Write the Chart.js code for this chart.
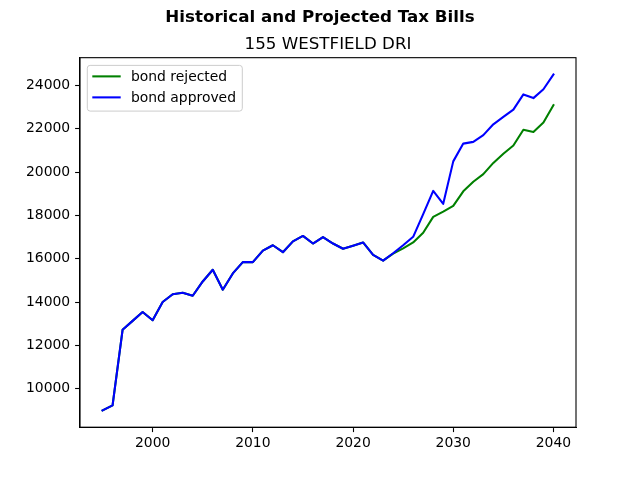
<!DOCTYPE html>
<html>
<head>
<meta charset="utf-8">
<script src="https://cdn.jsdelivr.net/npm/chart.js@4.4.1/dist/chart.umd.min.js"></script>
<style>
html,body{margin:0;padding:0;background:#fff;}
#wrap{width:640px;height:480px;position:relative;}
</style>
</head>
<body>
<div id="wrap"><canvas id="c" width="640" height="480"></canvas></div>
<script>
const years = [];
for (let y = 1995; y <= 2040; y++) years.push(y);

const history = [9000, 9230, 12720, 13130, 13540, 13160, 14000, 14360, 14430, 14290,
  14950, 15490, 14570, 15320, 15840, 15840, 16370, 16620, 16300, 16800,
  17050, 16700, 17000, 16700, 16460, 16600, 16750, 16180, 15910];

const rejectedProj = [16230, 16480, 16750, 17200, 17930, 18170, 18440, 19110, 19550,
  19900, 20420, 20840, 21220, 21950, 21850, 22280, 23080];

const approvedProj = [16250, 16620, 17010, 18060, 19130, 18530, 20490, 21310, 21390,
  21700, 22200, 22540, 22880, 23580, 23410, 23820, 24500];

const bondRejected = history.concat(rejectedProj);
const bondApproved = history.concat(approvedProj);

const xTicks = [2000, 2010, 2020, 2030, 2040];
const yTicks = [10000, 12000, 14000, 16000, 18000, 20000, 22000, 24000];

const seriesLabels = ['bond rejected', 'bond approved'];
const mainTitle = 'Historical and Projected Tax Bills';
const subTitle = '155 WESTFIELD DRI';

const FONT = "'DejaVu Sans', sans-serif";

function pts(vals) { return years.map((yr, i) => ({x: yr, y: vals[i]})); }

const allVals = bondRejected.concat(bondApproved);
const dMin = Math.min(...allVals), dMax = Math.max(...allVals);
const yPad = (dMax - dMin) * 0.05;
const xPad = (years[years.length - 1] - years[0]) * 0.05;

const titleAlign = {
  id: 'titleAlign',
  afterLayout(chart) {
    const a = chart.chartArea;
    chart.boxes.forEach(b => {
      if (!b.options || typeof b.options.text !== 'string') return;
      if (b.options.text === mainTitle) { b.left = 0; b.right = chart.width; }
      else if (b.options.text === subTitle) { b.left = a.left; b.right = a.right; }
    });
  }
};

const frameAndLegend = {
  id: 'frameAndLegend',
  afterDraw(chart) {
    const ctx = chart.ctx;
    const a = chart.chartArea;
    ctx.save();
    ctx.strokeStyle = '#000';
    ctx.lineWidth = 1.1;
    ctx.strokeRect(a.left, a.top, a.right - a.left, a.bottom - a.top);
    // legend
    const lx = a.left + 7.3, ly = a.top + 7.7, lw = 155, lh = 45.7, r = 2.8;
    ctx.beginPath();
    ctx.moveTo(lx + r, ly);
    ctx.lineTo(lx + lw - r, ly);
    ctx.arcTo(lx + lw, ly, lx + lw, ly + r, r);
    ctx.lineTo(lx + lw, ly + lh - r);
    ctx.arcTo(lx + lw, ly + lh, lx + lw - r, ly + lh, r);
    ctx.lineTo(lx + r, ly + lh);
    ctx.arcTo(lx, ly + lh, lx, ly + lh - r, r);
    ctx.lineTo(lx, ly + r);
    ctx.arcTo(lx, ly, lx + r, ly, r);
    ctx.closePath();
    ctx.fillStyle = 'rgba(255,255,255,0.8)';
    ctx.fill();
    ctx.strokeStyle = '#cccccc';
    ctx.lineWidth = 1;
    ctx.stroke();
    ctx.font = '13.9px ' + FONT;
    ctx.textBaseline = 'middle';
    ctx.fillStyle = '#000';
    chart.data.datasets.forEach((ds, i) => {
      const yy = ly + 11 + i * 21;
      ctx.beginPath();
      ctx.strokeStyle = ds.borderColor;
      ctx.lineWidth = 2.08;
      ctx.moveTo(lx + 5, yy);
      ctx.lineTo(lx + 33.4, yy);
      ctx.stroke();
      ctx.fillText(ds.label, lx + 43.7, yy + 1);
    });
    ctx.restore();
  }
};

new Chart(document.getElementById('c'), {
  type: 'line',
  data: {
    datasets: [
      {label: seriesLabels[0], data: pts(bondRejected), borderColor: '#008000', backgroundColor: '#008000', order: 1,
       borderWidth: 2.08, pointRadius: 0, tension: 0, borderJoinStyle: 'round', borderCapStyle: 'square'},
      {label: seriesLabels[1], data: pts(bondApproved), borderColor: '#0000ff', backgroundColor: '#0000ff', order: 0,
       borderWidth: 2.08, pointRadius: 0, tension: 0, borderJoinStyle: 'round', borderCapStyle: 'square'}
    ]
  },
  options: {
    responsive: false,
    animation: false,
    devicePixelRatio: 1,
    layout: {padding: {left: 0, right: 64, top: 0, bottom: 0}},
    plugins: {
      legend: {display: false},
      tooltip: {enabled: false},
      title: {display: true, text: mainTitle, color: '#000',
        font: {family: FONT, size: 16.7, weight: 'bold'}, padding: {top: 8, bottom: 0}},
      subtitle: {display: true, text: subTitle, color: '#000',
        font: {family: FONT, size: 16.7, weight: 'normal'}, padding: {top: 7, bottom: 2.6}}
    },
    scales: {
      x: {
        type: 'linear',
        min: years[0] - xPad,
        max: years[years.length - 1] + xPad,
        afterBuildTicks(s) { s.ticks = xTicks.map(v => ({value: v})); },
        afterFit(s) { s.height = 52.8; },
        ticks: {color: '#000', font: {family: FONT, size: 13.9}, padding: 3, maxRotation: 0,
          callback: v => String(v)},
        grid: {drawOnChartArea: false, drawTicks: true, tickLength: 4.9, color: '#000', tickWidth: 1.1},
        border: {display: true, color: '#000', width: 1.1}
      },
      y: {
        type: 'linear',
        min: dMin - yPad,
        max: dMax + yPad,
        afterBuildTicks(s) { s.ticks = yTicks.map(v => ({value: v})); },
        afterFit(s) { s.width = 80; },
        ticks: {color: '#000', font: {family: FONT, size: 13.9}, padding: 4.9,
          callback: v => String(v)},
        grid: {drawOnChartArea: false, drawTicks: true, tickLength: 4.9, color: '#000', tickWidth: 1.1},
        border: {display: true, color: '#000', width: 1.1}
      }
    }
  },
  plugins: [titleAlign, frameAndLegend]
});
</script>
</body>
</html>
